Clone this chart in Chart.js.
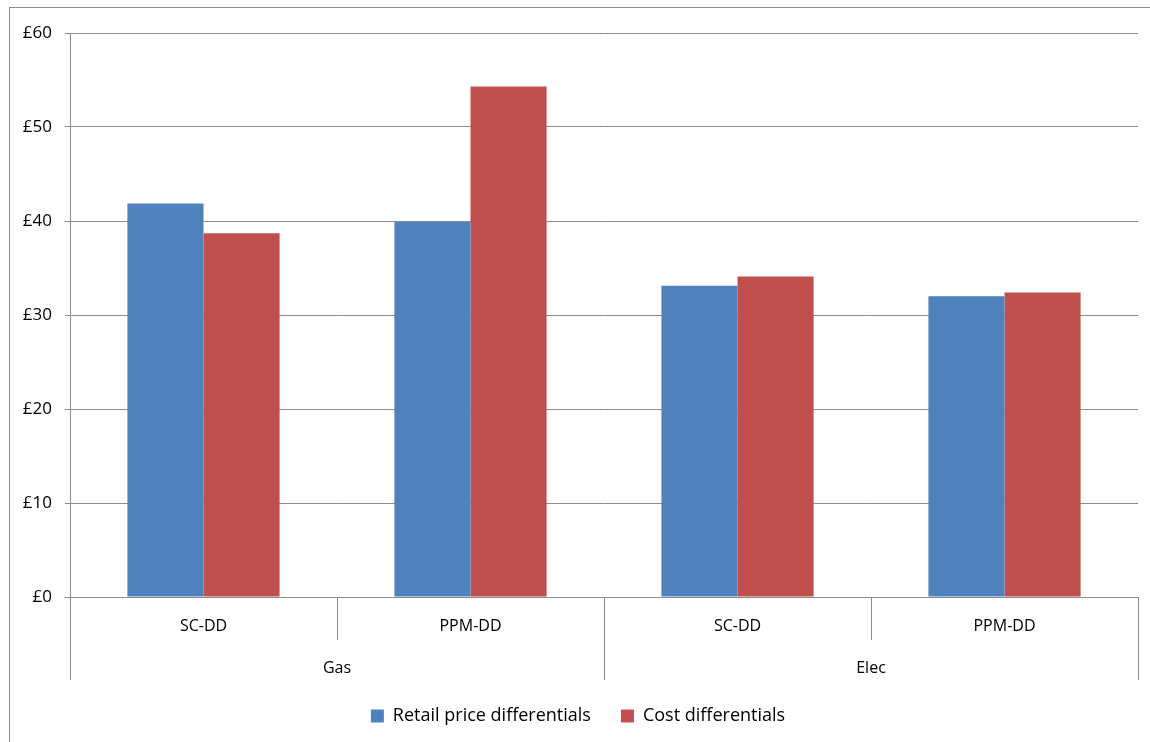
<!DOCTYPE html>
<html lang="en">
<head>
    <meta charset="UTF-8">
    <title>Price and cost differentials</title>
    <style>
        body {
            margin: 0;
            padding: 0;
            background: #fff;
            overflow: hidden;
        }
        .frame {
            position: absolute;
            left: 9px;
            top: 7px;
            width: 1300px;
            height: 900px;
            border-top: 1px solid #8c8c8c;
            border-left: 1px solid #8c8c8c;
            pointer-events: none;
        }
        .chart-box {
            position: absolute;
            left: 0;
            top: 0;
            width: 1150px;
            height: 742px;
        }
    </style>
    <script src="https://cdn.jsdelivr.net/npm/chart.js"></script>
</head>
<body>
    <div class="frame"></div>
    <div class="chart-box">
        <canvas id="diffChart"></canvas>
    </div>

    <script>
        // data
        const categories = ['SC-DD', 'PPM-DD', 'SC-DD', 'PPM-DD'];
        const groups = ['Gas', 'Elec'];
        const retailPrice = [41.85, 39.9, 33.1, 32.0];
        const costDiff = [38.7, 54.3, 34.1, 32.4];
        const yTicks = [0, 10, 20, 30, 40, 50, 60];

        const gridGrey = '#8c8c8c';

        Chart.defaults.font.family = '"Open Sans", sans-serif';
        Chart.defaults.font.size = 16;
        Chart.defaults.color = '#000';

        const ctx = document.getElementById('diffChart').getContext('2d');
        const diffChart = new Chart(ctx, {
            type: 'bar',
            data: {
                labels: categories,
                datasets: [
                    {
                        label: 'Retail price differentials',
                        data: retailPrice,
                        backgroundColor: '#4f81bd',
                        borderWidth: 0
                    },
                    {
                        label: 'Cost differentials',
                        data: costDiff,
                        backgroundColor: '#c0504d',
                        borderWidth: 0
                    }
                ]
            },
            options: {
                responsive: true,
                maintainAspectRatio: false,
                animation: false,
                categoryPercentage: 0.57,
                barPercentage: 1.0,
                layout: {
                    padding: { left: 18, right: 12, top: 33, bottom: 7 }
                },
                plugins: {
                    tooltip: { enabled: false },
                    legend: {
                        position: 'bottom',
                        labels: {
                            boxWidth: 13,
                            boxHeight: 13,
                            padding: 30,
                            color: '#000',
                            font: { size: 18 }
                        }
                    }
                },
                scales: {
                    y: {
                        min: 0,
                        max: 60,
                        afterBuildTicks: (scale) => {
                            scale.ticks = yTicks.map(v => ({ value: v }));
                        },
                        afterFit: (scale) => { scale.width = 52; },
                        grid: {
                            color: gridGrey,
                            tickLength: 5
                        },
                        border: { display: true, color: gridGrey },
                        ticks: {
                            padding: 13,
                            font: { size: 17 },
                            callback: (v) => '£' + v
                        }
                    },
                    x: {
                        type: 'category',
                        offset: true,
                        afterFit: (scale) => { scale.height = 43; },
                        grid: {
                            offset: true,
                            drawOnChartArea: false,
                            tickLength: 43,
                            color: gridGrey
                        },
                        border: { display: true, color: gridGrey },
                        ticks: { padding: -23, maxRotation: 0 }
                    },
                    x2: {
                        type: 'category',
                        position: 'bottom',
                        labels: groups,
                        offset: true,
                        afterFit: (scale) => { scale.height = 37; },
                        grid: {
                            offset: true,
                            drawOnChartArea: false,
                            tickLength: 40,
                            color: gridGrey
                        },
                        border: { display: false },
                        ticks: { padding: -21, maxRotation: 0 }
                    }
                }
            }
        });
    </script>
</body>
</html>
